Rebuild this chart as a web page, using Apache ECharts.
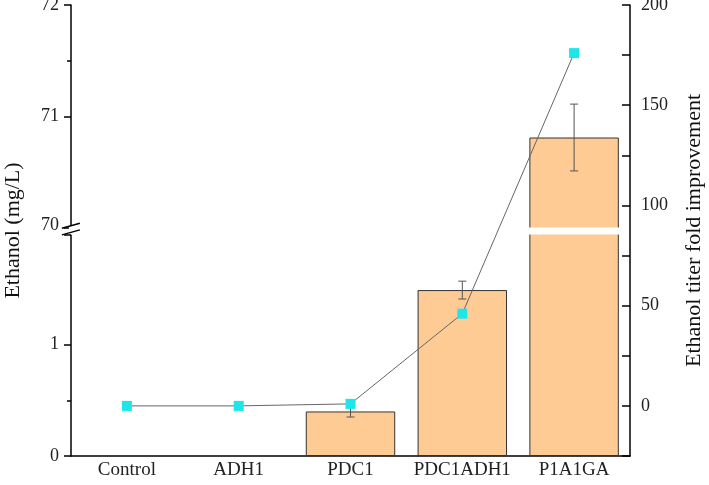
<!DOCTYPE html>
<html>
<head>
<meta charset="utf-8">
<script src="https://cdn.jsdelivr.net/npm/echarts@6/dist/echarts.min.js"></script>
<style>html,body{margin:0;padding:0;background:#fff}#c{width:709px;height:485px}</style>
</head>
<body>
<div id="c"></div>
<script>
const categories = ['Control', 'ADH1', 'PDC1', 'PDC1ADH1', 'P1A1GA'];
const ethanol = [null, null, 0.40, 1.49, 70.81];
const ethanolErr = [null, null, 0.05, 0.08, 0.30];
const fold = [0, 0, 1, 46, 176];
const leftTicks = [0, 1, 70, 71, 72];
const rightTicks = [0, 50, 100, 150, 200];

const FONT = 'Liberation Serif';
const chart = echarts.init(document.getElementById('c'));
const errData = categories.map((c, i) => ethanol[i] == null ? null : [i, ethanol[i] - ethanolErr[i], ethanol[i] + ethanolErr[i]]).filter(d => d);

chart.setOption({
  animation: false,
  grid: { left: 71, right: 79, top: 5, bottom: 29, outerBoundsMode: 'none' },
  xAxis: [{
    type: 'category', data: categories,
    axisLine: { lineStyle: { color: '#000', width: 1.5 } },
    axisTick: { alignWithLabel: true, length: 6, lineStyle: { color: '#000', width: 1.5 } },
    axisLabel: { fontFamily: FONT, fontSize: 19, color: '#222', margin: 5, interval: 0 }
  }, {
    type: 'category', data: categories, position: 'bottom',
    axisLine: { show: false },
    axisTick: { length: 4, interval: 0, lineStyle: { color: '#000', width: 1.5 } },
    axisLabel: { show: false }
  }],
  yAxis: [{
    type: 'value', min: 0, max: 72, interval: 1,
    breaks: [{ start: 1.99, end: 70, gap: 0.06 }],
    breakArea: {
      show: true, zigzagAmplitude: 0,
      itemStyle: { color: '#fff', opacity: 1, borderColor: 'none', borderWidth: 0 }
    },
    name: 'Ethanol (mg/L)', nameLocation: 'middle', nameGap: 47,
    nameTextStyle: { fontFamily: FONT, fontSize: 22, color: '#111' },
    axisLine: { show: true, lineStyle: { color: '#000', width: 1.5 } },
    axisTick: { show: true, length: 7, lineStyle: { color: '#000', width: 1.5 } },
    minorTick: { show: true, splitNumber: 2, length: 4, lineStyle: { color: '#000', width: 1.5 } },
    splitLine: { show: false },
    axisLabel: { fontFamily: FONT, fontSize: 18, color: '#222', margin: 12,
      formatter: v => leftTicks.indexOf(Math.round(v * 100) / 100) >= 0 ? String(v) : '' }
  }, {
    type: 'value', min: -25, max: 200, interval: 25, position: 'right', zlevel: 1,
    name: 'Ethanol titer fold improvement', nameLocation: 'middle', nameGap: 53,
    nameTextStyle: { fontFamily: FONT, fontSize: 22, color: '#111' },
    axisLine: { show: true, lineStyle: { color: '#000', width: 1.5 } },
    axisTick: { show: true, inside: true, length: 8, lineStyle: { color: '#000', width: 1.5 } },
    splitLine: { show: false },
    axisLabel: { fontFamily: FONT, fontSize: 18, color: '#222', margin: 11,
      formatter: v => rightTicks.indexOf(v) >= 0 ? String(v) : '' }
  }],
  series: [{
    type: 'bar', data: ethanol, yAxisIndex: 0, barWidth: '80%',
    itemStyle: { color: '#FDCB93', borderColor: '#333', borderWidth: 1 }
  }, {
    type: 'custom', yAxisIndex: 0, data: errData, z: 3,
    renderItem: (params, api) => {
      const x = api.value(0);
      const lo = api.coord([x, api.value(1)]);
      const hi = api.coord([x, api.value(2)]);
      const w = 4;
      const st = { stroke: '#555', lineWidth: 1 };
      return { type: 'group', children: [
        { type: 'line', shape: { x1: hi[0], y1: hi[1], x2: lo[0], y2: lo[1] }, style: st },
        { type: 'line', shape: { x1: hi[0] - w, y1: hi[1], x2: hi[0] + w, y2: hi[1] }, style: st },
        { type: 'line', shape: { x1: lo[0] - w, y1: lo[1], x2: lo[0] + w, y2: lo[1] }, style: st }
      ]};
    }
  }, {
    type: 'line', data: fold, yAxisIndex: 1, zlevel: 1,
    symbol: 'rect', symbolSize: 10,
    itemStyle: { color: '#1CE6EA' },
    lineStyle: { color: '#666', width: 1 }
  }]
});

// axis-break slash marks on the left axis
const yTop = chart.convertToPixel({ yAxisIndex: 0 }, 70) - 2;
const yBot = chart.convertToPixel({ yAxisIndex: 0 }, 1.99) - 2;
const x0 = chart.convertToPixel({ xAxisIndex: 0 }, 0) - 56;
const slash = (y) => ({ type: 'line', zlevel: 1, shape: { x1: x0 - 9, y1: y + 2.5, x2: x0 + 9, y2: y - 2.5 }, style: { stroke: '#000', lineWidth: 1.5 } });
chart.setOption({ graphic: [
  { type: 'rect', zlevel: 1, shape: { x: x0 - 2, y: yTop, width: 4, height: yBot - yTop }, style: { fill: '#fff' } },
  slash(yTop), slash(yBot)
] });
</script>
</body>
</html>
